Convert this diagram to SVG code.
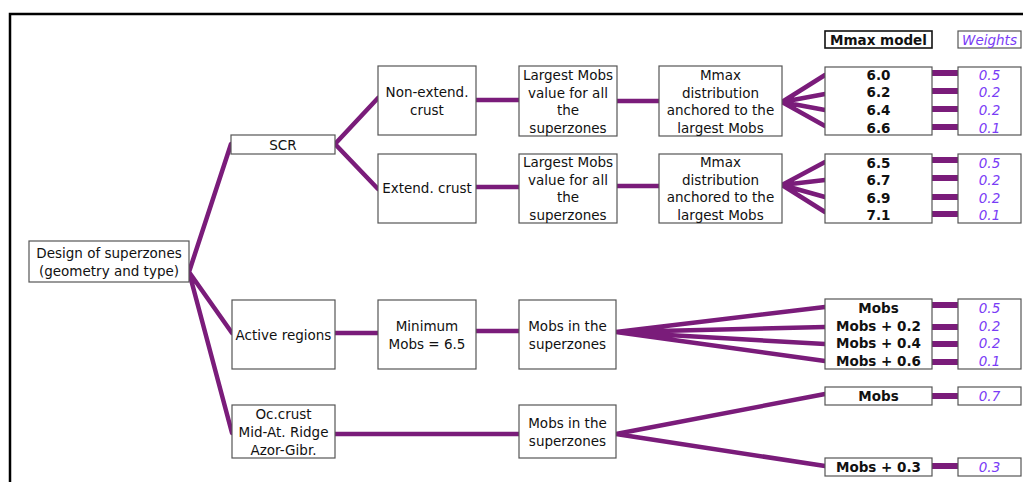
<svg xmlns="http://www.w3.org/2000/svg" width="1023" height="482" viewBox="0 0 1023 482">
  <style>
    .box { fill: #fff; stroke: #555; stroke-width: 1.2; }
    .hdr { fill: #fff; stroke: #111; stroke-width: 1.6; }
    .t { font-family: "DejaVu Sans", Verdana, sans-serif; font-size: 13.5px; fill: #111; text-anchor: middle; dominant-baseline: central; }
    .b { font-weight: bold; }
    .w { font-style: italic; fill: #7a3cf6; }
    .c { stroke: #7a1c7a; stroke-width: 4.5; stroke-linecap: round; fill: none; }
    .s { stroke: #7a1c7a; stroke-width: 6; fill: none; }
  </style>
  <rect width="1023" height="482" fill="#fff"/>
  <!-- frame -->
  <path d="M10 482 V14 H1023" fill="none" stroke="#000" stroke-width="2.5"/>

  <!-- connectors -->
  <g id="connectors">
    <path class="c" d="M189 272 L231 144 M189 272 L232 333 M189 272 L232 433"/>
    <path class="c" d="M335 144 L378 98 M335 144 L378 189"/>
    <path class="c" d="M476 100 H519 M617 101 H659 M476 187 H519 M617 186 H659"/>
    <path class="c" d="M782 102 L825 75 M782 102 L825 94 M782 102 L825 110 M782 102 L825 126"/>
    <path class="c" d="M782 185 L825 162 M782 185 L825 180 M782 185 L825 197 M782 185 L825 212"/>
    <path class="c" d="M335 333 H378 M476 331 H519"/>
    <path class="c" d="M616 332 L825 307 M616 332 L825 327 M616 332 L825 344 M616 332 L825 361"/>
    <path class="c" d="M335 434 H519 M616 434 L825 394 M616 434 L825 466"/>
    <path class="s" d="M932 73 H958 M932 91 H958 M932 109 H958 M932 127 H958"/>
    <path class="s" d="M932 160 H958 M932 178 H958 M932 197 H958 M932 214 H958"/>
    <path class="s" d="M932 305 H958 M932 327 H958 M932 344 H958 M932 362 H958"/>
    <path class="s" d="M932 396 H958 M932 466 H958"/>
  </g>

  <g id="design">
    <rect class="box" x="29" y="241" width="160" height="41"/>
    <text class="t" x="109" y="253">Design of superzones</text>
    <text class="t" x="109" y="271">(geometry and type)</text>
  </g>
  <g id="scr">
    <rect class="box" x="231" y="135" width="104" height="19"/>
    <text class="t" x="283" y="145">SCR</text>
  </g>
  <g id="non-extend">
    <rect class="box" x="378" y="66" width="98" height="69"/>
    <text class="t" x="427" y="92">Non-extend.</text>
    <text class="t" x="427" y="110">crust</text>
  </g>
  <g id="extend">
    <rect class="box" x="378" y="154" width="98" height="69"/>
    <text class="t" x="427" y="188">Extend. crust</text>
  </g>
  <g id="largest-1">
    <rect class="box" x="519" y="66" width="98" height="70"/>
    <text class="t" x="568" y="75">Largest Mobs</text>
    <text class="t" x="568" y="93">value for all</text>
    <text class="t" x="568" y="110">the</text>
    <text class="t" x="568" y="128">superzones</text>
  </g>
  <g id="largest-2">
    <rect class="box" x="519" y="154" width="98" height="69"/>
    <text class="t" x="568" y="162">Largest Mobs</text>
    <text class="t" x="568" y="180">value for all</text>
    <text class="t" x="568" y="197">the</text>
    <text class="t" x="568" y="215">superzones</text>
  </g>
  <g id="mmax-dist-1">
    <rect class="box" x="659" y="66" width="123" height="70"/>
    <text class="t" x="720.5" y="75">Mmax</text>
    <text class="t" x="720.5" y="93">distribution</text>
    <text class="t" x="720.5" y="110">anchored to the</text>
    <text class="t" x="720.5" y="128">largest Mobs</text>
  </g>
  <g id="mmax-dist-2">
    <rect class="box" x="659" y="154" width="123" height="69"/>
    <text class="t" x="720.5" y="162">Mmax</text>
    <text class="t" x="720.5" y="180">distribution</text>
    <text class="t" x="720.5" y="197">anchored to the</text>
    <text class="t" x="720.5" y="215">largest Mobs</text>
  </g>
  <g id="mmax-model-header">
    <rect class="hdr" x="825" y="31" width="107" height="17"/>
    <text class="t b" x="878.5" y="40">Mmax model</text>
  </g>
  <g id="weights-header">
    <rect class="box" x="958" y="31" width="63" height="17"/>
    <text class="t w" x="989.5" y="40">Weights</text>
  </g>
  <g id="values-1">
    <rect class="box" x="825" y="67" width="107" height="68"/>
    <text class="t b" x="878.5" y="75">6.0</text>
    <text class="t b" x="878.5" y="92">6.2</text>
    <text class="t b" x="878.5" y="110">6.4</text>
    <text class="t b" x="878.5" y="128">6.6</text>
  </g>
  <g id="weights-1">
    <rect class="box" x="958" y="67" width="63" height="68"/>
    <text class="t w" x="989.5" y="75">0.5</text>
    <text class="t w" x="989.5" y="92">0.2</text>
    <text class="t w" x="989.5" y="110">0.2</text>
    <text class="t w" x="989.5" y="128">0.1</text>
  </g>
  <g id="values-2">
    <rect class="box" x="825" y="154" width="107" height="69"/>
    <text class="t b" x="878.5" y="163">6.5</text>
    <text class="t b" x="878.5" y="180">6.7</text>
    <text class="t b" x="878.5" y="198">6.9</text>
    <text class="t b" x="878.5" y="215">7.1</text>
  </g>
  <g id="weights-2">
    <rect class="box" x="958" y="154" width="63" height="69"/>
    <text class="t w" x="989.5" y="163">0.5</text>
    <text class="t w" x="989.5" y="180">0.2</text>
    <text class="t w" x="989.5" y="198">0.2</text>
    <text class="t w" x="989.5" y="215">0.1</text>
  </g>
  <g id="active">
    <rect class="box" x="232" y="300" width="103" height="69"/>
    <text class="t" x="283.5" y="335">Active regions</text>
  </g>
  <g id="minimum">
    <rect class="box" x="378" y="300" width="98" height="69"/>
    <text class="t" x="427" y="326">Minimum</text>
    <text class="t" x="427" y="344">Mobs = 6.5</text>
  </g>
  <g id="mobs-super-1">
    <rect class="box" x="519" y="300" width="97" height="69"/>
    <text class="t" x="567.5" y="326">Mobs in the</text>
    <text class="t" x="567.5" y="344">superzones</text>
  </g>
  <g id="values-3">
    <rect class="box" x="825" y="299" width="107" height="70"/>
    <text class="t b" x="878.5" y="308">Mobs</text>
    <text class="t b" x="878.5" y="326">Mobs + 0.2</text>
    <text class="t b" x="878.5" y="343">Mobs + 0.4</text>
    <text class="t b" x="878.5" y="361">Mobs + 0.6</text>
  </g>
  <g id="weights-3">
    <rect class="box" x="958" y="299" width="63" height="70"/>
    <text class="t w" x="989.5" y="308">0.5</text>
    <text class="t w" x="989.5" y="326">0.2</text>
    <text class="t w" x="989.5" y="343">0.2</text>
    <text class="t w" x="989.5" y="361">0.1</text>
  </g>
  <g id="oceanic">
    <rect class="box" x="232" y="405" width="103" height="53"/>
    <text class="t" x="283.5" y="414">Oc.crust</text>
    <text class="t" x="283.5" y="432">Mid-At. Ridge</text>
    <text class="t" x="283.5" y="450">Azor-Gibr.</text>
  </g>
  <g id="mobs-super-2">
    <rect class="box" x="519" y="405" width="97" height="53"/>
    <text class="t" x="567.5" y="423">Mobs in the</text>
    <text class="t" x="567.5" y="441">superzones</text>
  </g>
  <g id="value-mobs">
    <rect class="box" x="825" y="387" width="107" height="18"/>
    <text class="t b" x="878.5" y="396">Mobs</text>
  </g>
  <g id="weight-07">
    <rect class="box" x="958" y="387" width="63" height="18"/>
    <text class="t w" x="989.5" y="396">0.7</text>
  </g>
  <g id="value-mobs-03">
    <rect class="box" x="825" y="458" width="107" height="18"/>
    <text class="t b" x="878.5" y="467">Mobs + 0.3</text>
  </g>
  <g id="weight-03">
    <rect class="box" x="958" y="458" width="63" height="18"/>
    <text class="t w" x="989.5" y="467">0.3</text>
  </g>
</svg>
